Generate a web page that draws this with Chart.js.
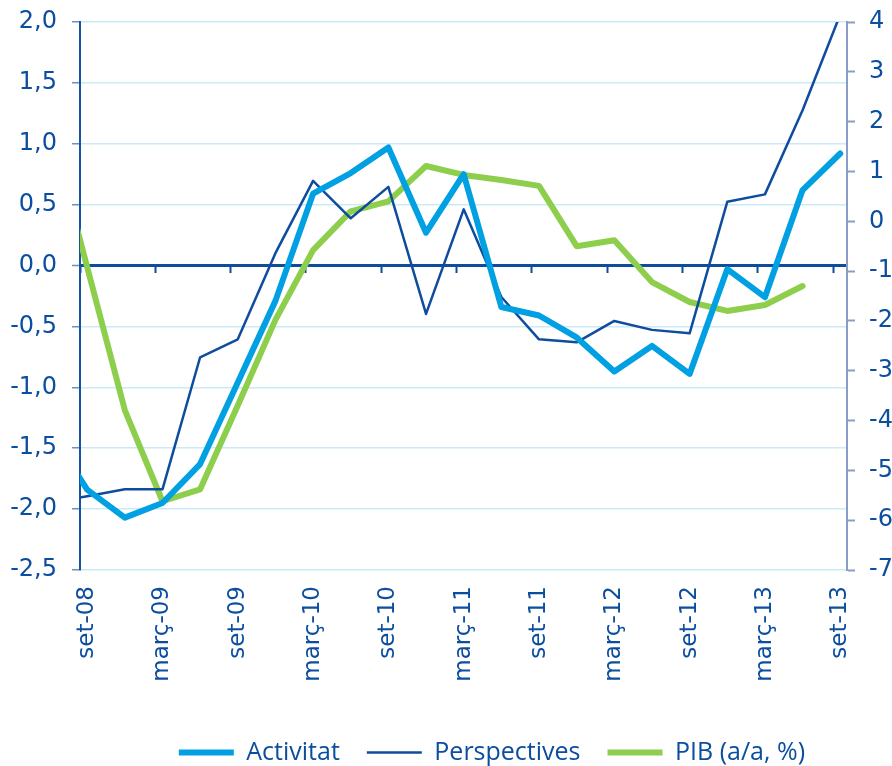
<!DOCTYPE html>
<html>
<head>
<meta charset="utf-8">
<script src="https://cdn.jsdelivr.net/npm/chart.js@4.4.1/dist/chart.umd.min.js"></script>
<style>html,body{margin:0;padding:0;background:#fff;}canvas{display:block;}</style>
</head>
<body>
<canvas id="c" width="892" height="766"></canvas>
<script>
// Quarters (first one, jun-08, lies just left of the plotted window and is clipped)
const quarters = ['jun-08','set-08','des-08','març-09','juny-09','set-09','des-09','març-10','juny-10','set-10','des-10','març-11','juny-11','set-11','des-11','març-12','juny-12','set-12','des-12','març-13','juny-13','set-13'];
const tickLabels = ['set-08','març-09','set-09','març-10','set-10','març-11','set-11','març-12','set-12','març-13','set-13'];

// Left axis
const activitat = [-1.35, -1.84, -2.07, -1.95, -1.63, -0.96, -0.29, 0.59, 0.76, 0.97, 0.27, 0.75, -0.34, -0.41, -0.59, -0.87, -0.66, -0.89, -0.03, -0.26, 0.62, 0.92];
// Right axis
const perspectives = [-5.66, -5.52, -5.38, -5.38, -2.73, -2.37, -0.64, 0.81, 0.06, 0.69, -1.86, 0.24, -1.52, -2.37, -2.43, -2.0, -2.18, -2.25, 0.39, 0.54, 2.23, 4.15];
const pib = [1.97, -0.92, -3.79, -5.62, -5.38, -3.7, -1.98, -0.58, 0.2, 0.4, 1.11, 0.93, 0.83, 0.71, -0.5, -0.38, -1.22, -1.62, -1.8, -1.68, -1.3, null];

const leftTicks = { min: -2.5, max: 2.0, step: 0.5 };
const rightTicks = { min: -7, max: 4, step: 1 };

const TEXT = '#0b4d9f';
const AXFONT = 'DejaVu Sans';
const LEGFONT = 'Open Sans';
const toPts = arr => arr.map((v, i) => ({ x: i - 1, y: v }));

const xMin = -0.19, xMax = 20.18, tickShift = -0.19;
const legendShift = 15;

const legendNudge = {
  id: 'legendNudge',
  beforeDraw(chart) {
    const lg = chart.legend;
    if (lg && !lg._nudged) { lg.right -= legendShift; lg._nudged = true; }
  }
};

const noPad = s => { s.paddingTop = 0; s.paddingBottom = 0; };

new Chart(document.getElementById('c'), {
  type: 'line',
  data: {
    datasets: [
      { label: 'Activitat', data: toPts(activitat), yAxisID: 'y', borderColor: '#00a0e3', backgroundColor: '#00a0e3',
        borderWidth: 6, pointRadius: 0, tension: 0, borderJoinStyle: 'round', borderCapStyle: 'round', pointStyle: 'line' },
      { label: 'Perspectives', data: toPts(perspectives), yAxisID: 'y1', borderColor: '#0e4c9e', backgroundColor: '#0e4c9e',
        borderWidth: 2.5, pointRadius: 0, tension: 0, borderJoinStyle: 'round', borderCapStyle: 'round', pointStyle: 'line' },
      { label: 'PIB (a/a, %)', data: toPts(pib), yAxisID: 'y1', borderColor: '#8ece4d', backgroundColor: '#8ece4d',
        borderWidth: 6, pointRadius: 0, tension: 0, borderJoinStyle: 'round', borderCapStyle: 'round', pointStyle: 'line', spanGaps: false }
    ]
  },
  options: {
    responsive: false,
    animation: false,
    events: [],
    layout: { padding: { top: 22, left: 0, right: 0, bottom: -9 } },
    plugins: {
      tooltip: { enabled: false },
      legend: {
        position: 'bottom',
        fullSize: false,
        align: 'end',
        labels: {
          usePointStyle: true,
          pointStyleWidth: 55,
          boxHeight: 6,
          padding: 27,
          color: TEXT,
          font: { family: LEGFONT, size: 25 }
        }
      }
    },
    scales: {
      x: {
        type: 'linear', position: 'bottom', min: xMin, max: xMax,
        afterBuildTicks: s => { s.ticks = tickLabels.map((_, k) => ({ value: k * 2 })); },
        afterFit: s => { s.height = 143; },
        grid: { display: false },
        border: { display: false },
        ticks: {
          autoSkip: false, minRotation: 90, maxRotation: 90, padding: 8,
          color: TEXT, font: { family: AXFONT, size: 23 },
          callback: v => quarters[v + 1]
        }
      },
      x2: {
        type: 'linear', axis: 'x', position: { y: 0 }, min: xMin, max: xMax,
        afterBuildTicks: s => { s.ticks = tickLabels.map((_, k) => ({ value: k * 2 + tickShift })); },
        grid: { drawOnChartArea: false, drawTicks: true, tickLength: 7, tickColor: '#0e4c9e', tickWidth: 2 },
        border: { display: false },
        ticks: { display: false }
      },
      y: {
        position: 'left', min: leftTicks.min, max: leftTicks.max,
        afterFit: s => { s.width = 80; noPad(s); },
        ticks: {
          stepSize: leftTicks.step, padding: 15, color: TEXT, font: { family: AXFONT, size: 24 },
          callback: v => v.toFixed(1).replace('.', ',')
        },
        grid: {
          color: c => c.tick && c.tick.value === 0 ? '#0e4c9e' : '#c9eaf8',
          lineWidth: c => c.tick && c.tick.value === 0 ? 3 : 1.5,
          tickColor: '#6f8fc6', tickLength: 8, tickWidth: 1.5
        },
        border: { color: '#1553a3', width: 2 }
      },
      y1: {
        position: 'right', min: rightTicks.min, max: rightTicks.max,
        afterFit: s => { s.width = 45; noPad(s); },
        ticks: {
          stepSize: rightTicks.step, padding: 14, color: TEXT, font: { family: AXFONT, size: 24 },
          callback: v => String(v)
        },
        grid: { drawOnChartArea: false, tickColor: '#8c9cc8', tickLength: 8, tickWidth: 2 },
        border: { color: '#8c9cc8', width: 2 }
      }
    }
  },
  plugins: [legendNudge]
});
</script>
</body>
</html>
